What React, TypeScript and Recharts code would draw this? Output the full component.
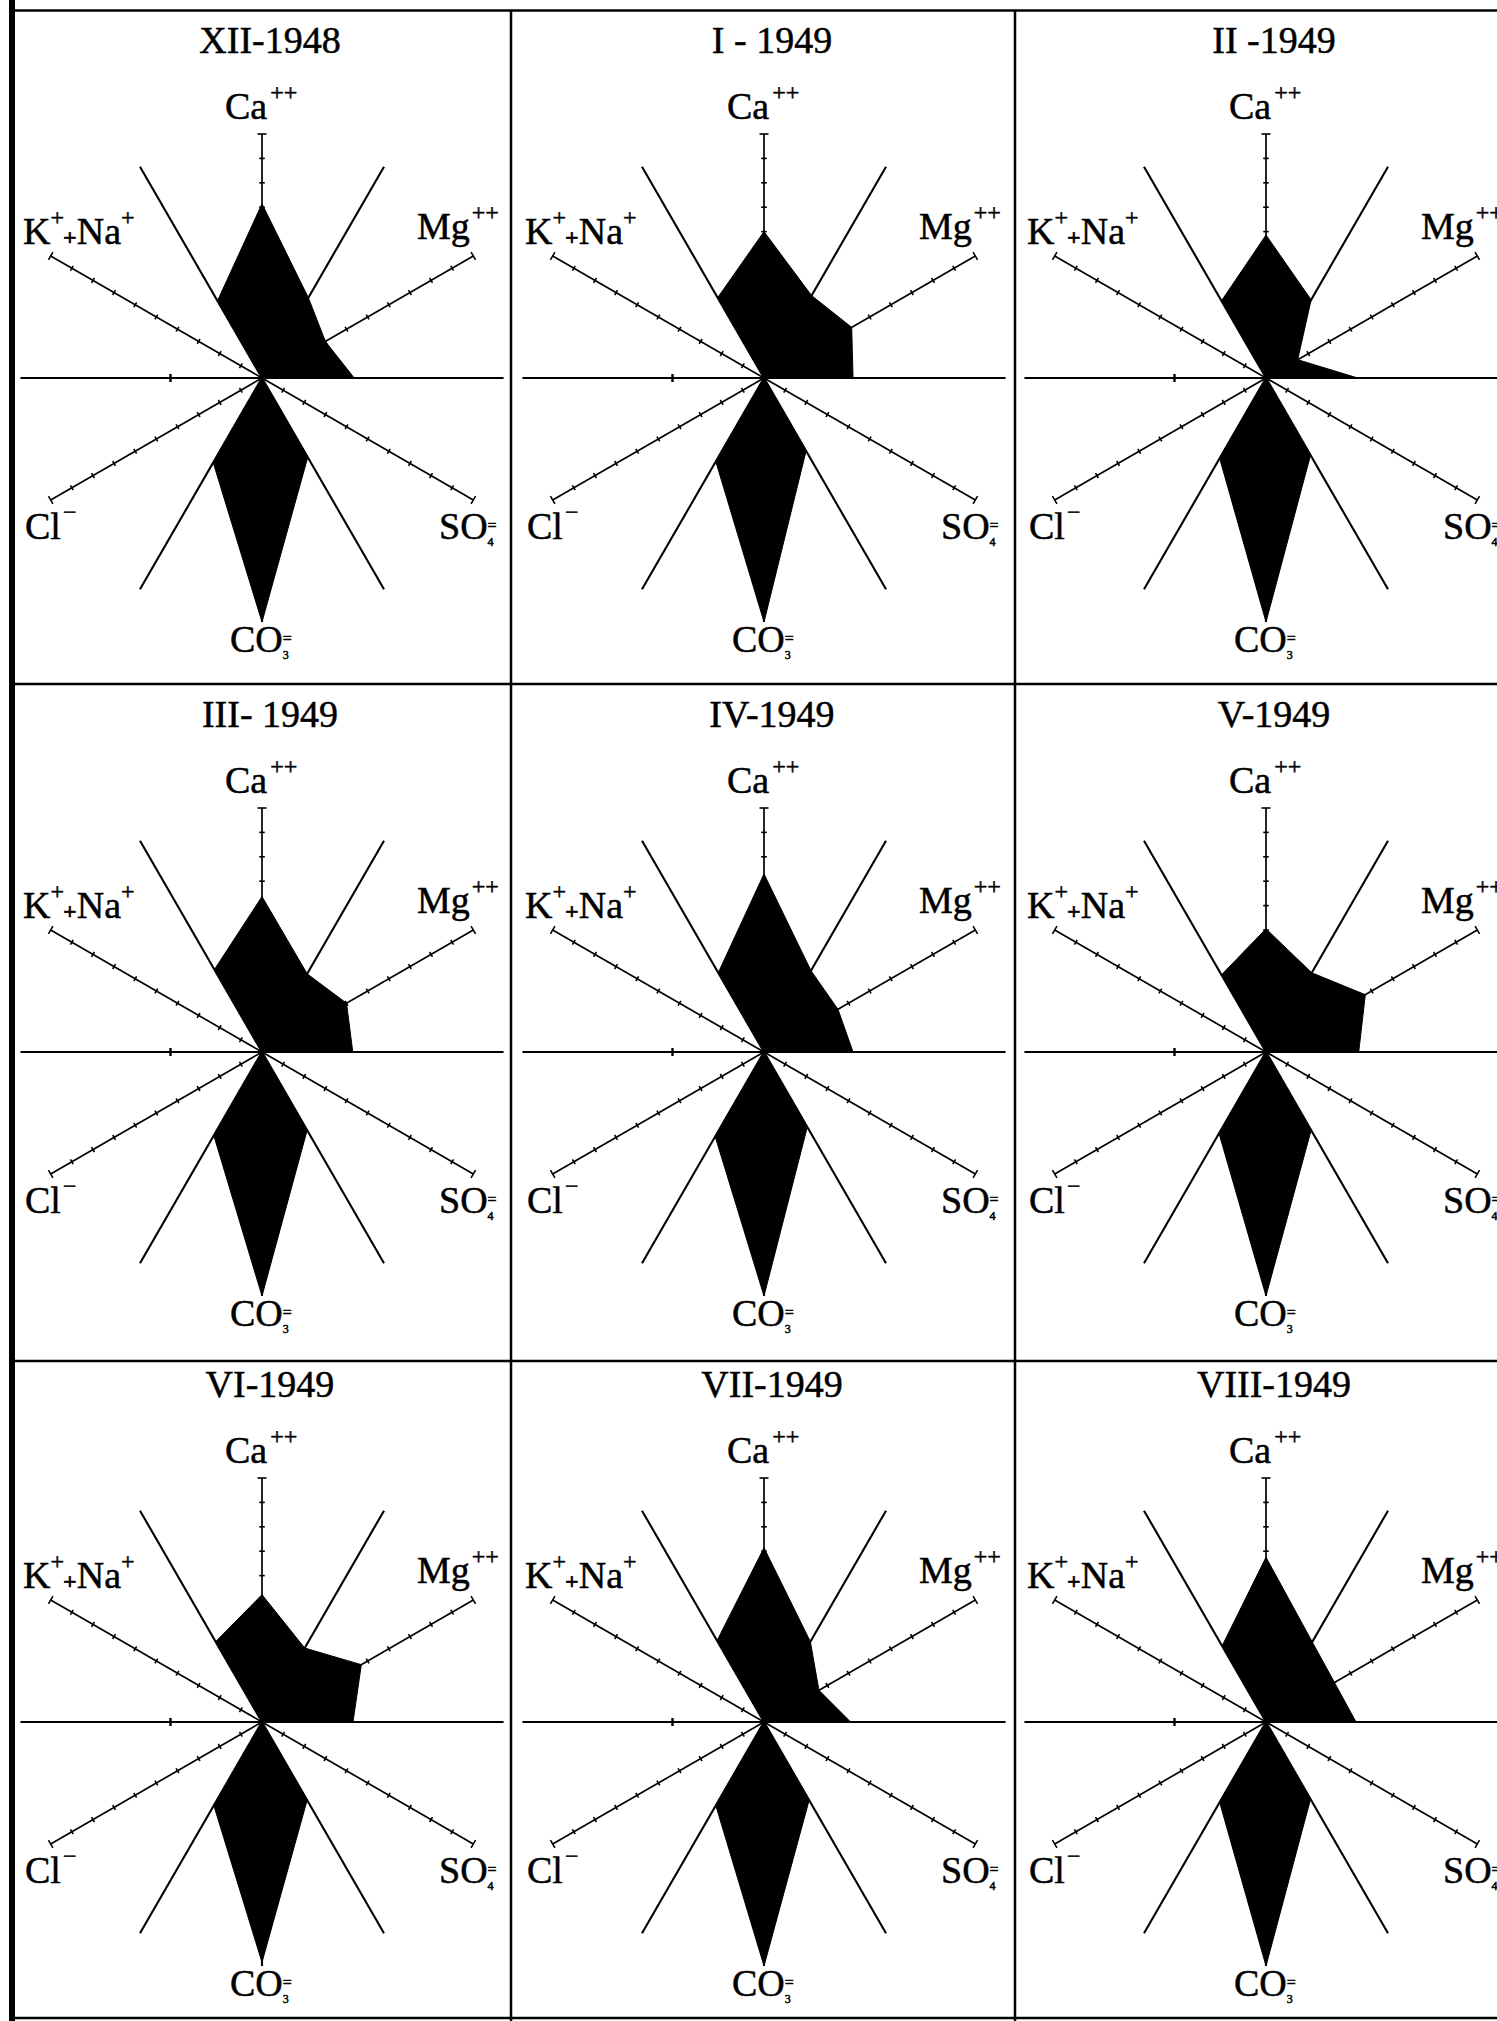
import React from 'react';
import { ScatterChart, Scatter, XAxis, YAxis, ReferenceLine } from 'recharts';

// ---- data (scale units 0..10 along each ray) ----
const months = ['XII-1948', 'I - 1949', 'II -1949', 'III- 1949', 'IV-1949', 'V-1949', 'VI-1949', 'VII-1949', 'VIII-1949'];

// values on the 12 rays of each diagram (angle in degrees, counter-clockwise from the right)
const hRight = [3.78, 3.65, 3.76, 3.72, 3.65, 3.8, 3.73, 3.55, 3.69]; // 0
const mg = [3.0, 4.15, 1.5, 4.0, 3.5, 4.7, 4.7, 2.6, 3.24]; // 30
const caMgLine = [3.8, 3.9, 3.7, 3.7, 3.85, 3.75, 3.5, 3.8, 3.79]; // 60
const ca = [7.14, 6.0, 5.86, 6.37, 7.3, 5.05, 5.22, 7.14, 6.75]; // 90
const caKnaLine = [3.65, 3.8, 3.65, 3.9, 3.75, 3.65, 3.8, 3.85, 3.6]; // 120
const kna = [0, 0, 0, 0, 0, 0, 0, 0, 0]; // 150
const hLeft = [0, 0, 0, 0, 0, 0, 0, 0, 0]; // 180
const cl = [0, 0, 0, 0, 0, 0, 0, 0, 0]; // 210
const clCo3Line = [4.0, 3.95, 3.8, 3.95, 4.0, 3.85, 3.95, 3.95, 3.8]; // 240
const co3 = [10, 10, 10, 10, 10, 10, 9.85, 10, 10]; // 270
const co3So4Line = [3.75, 3.45, 3.65, 3.7, 3.55, 3.7, 3.7, 3.7, 3.65]; // 300
const so4 = [0, 0, 0, 0, 0, 0, 0, 0, 0]; // 330

const rayAngles = [0, 30, 60, 90, 120, 150, 180, 210, 240, 270, 300, 330];
const raySeries = [hRight, mg, caMgLine, ca, caKnaLine, kna, hLeft, cl, clCo3Line, co3, co3So4Line, so4];
const tickedAngles = [30, 90, 150, 210, 330];
const plainAngles = [60, 120, 240, 270, 300];
const tickValues = [1, 2, 3, 4, 5, 6, 7, 8, 9];
const axisMax = 10;
const horizontalMark = 3.75;

// ---- layout ----
const S = 24.4; // px per unit
const colLeft = [15, 513, 1017];
const colRight = [510, 1014, 1497];
const centerX = [262, 764, 1266];
const rowTop = [12, 686, 1363];
const rowBottom = [683, 1360, 2017];
const centerY = [378, 1052, 1722];

const FONT = '"Liberation Serif", "Times New Roman", serif';

const rad = (d: number) => (d * Math.PI) / 180;
const toXY = (r: number, deg: number) => ({ x: r * Math.cos(rad(deg)), y: r * Math.sin(rad(deg)) });

const tickData: any[] = [];
tickedAngles.forEach((a) => {
  tickValues.forEach((v) => tickData.push({ ...toXY(v, a), angle: a, cap: false }));
  tickData.push({ ...toXY(axisMax, a), angle: a, cap: true });
});
tickData.push({ x: -horizontalMark, y: 0, angle: 0, cap: false, big: true });

const TickShape = (props: any) => {
  const { cx, cy, payload } = props;
  if (cx == null || cy == null) return <g />;
  const a = rad(payload.angle);
  const h = payload.cap ? 4.5 : payload.big ? 4 : 2.8;
  return (
    <line
      x1={cx - h * Math.sin(a)}
      y1={cy - h * Math.cos(a)}
      x2={cx + h * Math.sin(a)}
      y2={cy + h * Math.cos(a)}
      stroke="#000"
      strokeWidth={payload.big ? 2.4 : 1.6}
    />
  );
};

const NoShape = () => <g />;

function Diagram({ index }: { index: number }) {
  const row = Math.floor(index / 3);
  const col = index % 3;
  const left = colLeft[col];
  const top = rowTop[row];
  const width = colRight[col] - left;
  const height = rowBottom[row] - top;
  const cxL = centerX[col] - left;
  const cyL = centerY[row] - top;
  const xDomain = [-cxL / S, (width - cxL) / S];
  const yDomain = [-(height - cyL) / S, cyL / S];
  const poly = rayAngles.map((a, k) => toXY(raySeries[k][index], a));

  return (
    <div style={{ position: 'absolute', left, top, width, height }}>
      <ScatterChart width={width} height={height} margin={{ top: 0, right: 0, bottom: 0, left: 0 }}>
        <XAxis type="number" dataKey="x" domain={xDomain} hide allowDataOverflow />
        <YAxis type="number" dataKey="y" domain={yDomain} hide allowDataOverflow />
        <ReferenceLine
          segment={[{ x: -9.9, y: 0 }, { x: 9.9, y: 0 }]}
          stroke="#000"
          strokeWidth={2}
          ifOverflow="visible"
        />
        {tickedAngles.map((a) => (
          <ReferenceLine
            key={'t' + a}
            segment={[{ x: 0, y: 0 }, toXY(axisMax, a)]}
            stroke="#000"
            strokeWidth={1.7}
            ifOverflow="visible"
          />
        ))}
        {plainAngles.map((a) => (
          <ReferenceLine
            key={'p' + a}
            segment={[{ x: 0, y: 0 }, toXY(axisMax, a)]}
            stroke="#000"
            strokeWidth={2.1}
            ifOverflow="visible"
          />
        ))}
        <Scatter data={tickData} shape={TickShape} isAnimationActive={false} />
        <Scatter
          data={poly}
          fill="#000"
          line={{ fill: '#000', stroke: '#000', strokeWidth: 1 }}
          lineType="joint"
          lineJointType="linear"
          shape={NoShape}
          isAnimationActive={false}
        />
      </ScatterChart>
    </div>
  );
}

function Labels({ index }: { index: number }) {
  const row = Math.floor(index / 3);
  const col = index % 3;
  const cx = centerX[col];
  const cy = centerY[row];
  const big = 38;
  const sup = 24;
  const supUp = 19;
  return (
    <g fontFamily={FONT} fill="#000" stroke="#000" strokeWidth={0.5}>
      <text x={cx + 8} y={cy - 325} fontSize={big} textAnchor="middle">
        {months[index]}
      </text>
      <text x={cx - 37} y={cy - 259} fontSize={big}>
        Ca
        <tspan fontSize={sup} dx={3} y={cy - 259 - supUp}>++</tspan>
      </text>
      <text x={cx - 239} y={cy - 134} fontSize={big}>
        K
        <tspan fontSize={sup} y={cy - 134 - supUp}>+</tspan>
        <tspan fontSize={sup} fontWeight="bold" dx={-1} y={cy - 134 + 1}>+</tspan>
        <tspan y={cy - 134}>Na</tspan>
        <tspan fontSize={sup} y={cy - 134 - supUp}>+</tspan>
      </text>
      <text x={cx + 155} y={cy - 139} fontSize={big}>
        Mg
        <tspan fontSize={sup} dx={2} y={cy - 139 - supUp}>++</tspan>
      </text>
      <text x={cx - 237} y={cy + 161} fontSize={big}>
        Cl
        <tspan fontSize={sup} dx={2} y={cy + 161 - supUp}>−</tspan>
      </text>
      <text x={cx + 177} y={cy + 161} fontSize={big}>
        SO
        <tspan fontSize={16} y={cy + 161 - 8}>=</tspan>
        <tspan fontSize={12} dx={-9} y={cy + 161 + 7}>4</tspan>
      </text>
      <text x={cx - 32} y={cy + 274} fontSize={big}>
        CO
        <tspan fontSize={16} y={cy + 274 - 8}>=</tspan>
        <tspan fontSize={12} dx={-9} y={cy + 274 + 7}>3</tspan>
      </text>
    </g>
  );
}

export default function App() {
  const idx = months.map((_, i) => i);
  return (
    <div style={{ position: 'absolute', left: 0, top: 0, width: 1497, height: 2021, background: '#fff', overflow: 'hidden' }}>
      <svg width={1497} height={2021} style={{ position: 'absolute', left: 0, top: 0 }}>
        <rect x={9} y={0} width={6} height={2021} fill="#000" />
        <line x1={12} y1={10.5} x2={1497} y2={10.5} stroke="#000" strokeWidth={2.5} />
        <line x1={12} y1={684} x2={1497} y2={684} stroke="#000" strokeWidth={2.5} />
        <line x1={12} y1={1361} x2={1497} y2={1361} stroke="#000" strokeWidth={2.5} />
        <line x1={12} y1={2018} x2={1497} y2={2018} stroke="#000" strokeWidth={2.5} />
        <line x1={511} y1={10} x2={511} y2={2021} stroke="#000" strokeWidth={2.5} />
        <line x1={1015} y1={10} x2={1015} y2={2021} stroke="#000" strokeWidth={2.5} />
        {idx.map((i) => (
          <Labels key={i} index={i} />
        ))}
      </svg>
      {idx.map((i) => (
        <Diagram key={i} index={i} />
      ))}
    </div>
  );
}
